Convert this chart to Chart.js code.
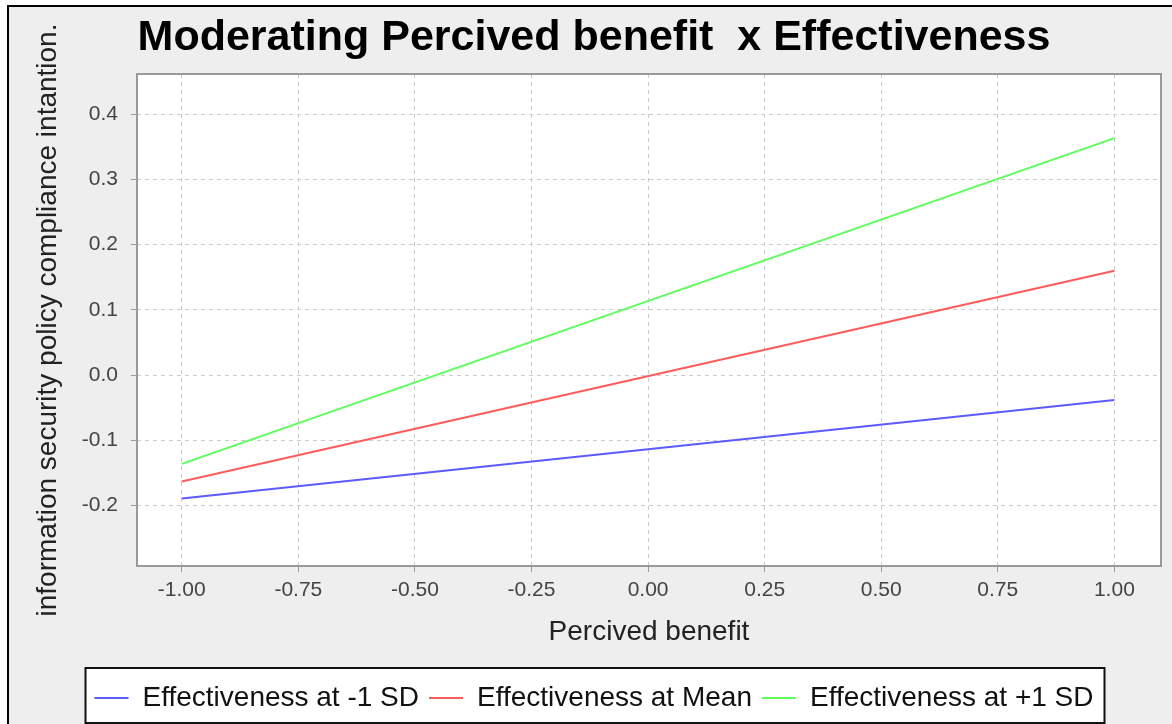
<!DOCTYPE html>
<html>
<head>
<meta charset="utf-8">
<script src="https://cdn.jsdelivr.net/npm/chart.js@4.4.1/dist/chart.umd.min.js"></script>
<style>
  html, body { margin: 0; padding: 0; background: #fff; overflow: hidden; }
  #wrap { position: absolute; left: 0; top: 0; width: 1188px; height: 724px; }
</style>
</head>
<body>
<div id="wrap"><canvas id="chart" width="1188" height="724"></canvas></div>
<script>
// values
const xValues = [-1, 1];
const lowSD = [-0.189, -0.038];
const meanSD = [-0.163, 0.160];
const highSD = [-0.136, 0.363];
const seriesNames = ["Effectiveness at -1 SD", "Effectiveness at Mean", "Effectiveness at +1 SD"];
const xTicks = [-1, -0.75, -0.5, -0.25, 0, 0.25, 0.5, 0.75, 1];
const yTicks = [-0.2, -0.1, 0, 0.1, 0.2, 0.3, 0.4];

const FONT = "'Liberation Sans', Arial, sans-serif";

function toPoints(ys) {
  return xValues.map((x, i) => ({ x: x, y: ys[i] }));
}

// grey frame, white plot and boxed legend like the java chart
const framePlugin = {
  id: "frame",
  beforeDraw(chart) {
    const { ctx, chartArea: a } = chart;
    ctx.save();
    ctx.fillStyle = "#ffffff";
    ctx.fillRect(0, 0, chart.width, chart.height);
    ctx.fillStyle = "#eeeeee";
    ctx.fillRect(7, 5, chart.width, chart.height);
    ctx.fillStyle = "#ffffff";
    ctx.fillRect(a.left, a.top, a.right - a.left, a.bottom - a.top);
    const lg = legendBox(chart);
    if (lg) ctx.fillRect(lg.l, lg.t, lg.r - lg.l, lg.b - lg.t);
    ctx.restore();
  },
  afterDraw(chart) {
    const { ctx, chartArea: a } = chart;
    ctx.save();
    ctx.strokeStyle = "#999999";
    ctx.lineWidth = 2;
    ctx.strokeRect(a.left, a.top, a.right - a.left, a.bottom - a.top);
    ctx.strokeStyle = "#000000";
    ctx.lineWidth = 2;
    ctx.beginPath();
    ctx.moveTo(8, chart.height);
    ctx.lineTo(8, 6);
    ctx.lineTo(chart.width, 6);
    ctx.stroke();
    const lg = legendBox(chart);
    if (lg) {
      ctx.strokeStyle = "#111111";
      ctx.strokeRect(lg.l, lg.t, lg.r - lg.l, lg.b - lg.t);
    }
    ctx.restore();
  }
};

function legendBox(chart) {
  const lg = chart.legend;
  if (!lg || !lg.legendHitBoxes || !lg.legendHitBoxes.length) return null;
  const hb = lg.legendHitBoxes;
  const l = Math.min(...hb.map(h => h.left)) - 9;
  const r = Math.max(...hb.map(h => h.left + h.width)) + 11;
  return { l: l, r: r, t: lg.top - 6, b: lg.bottom + 1 };
}

new Chart(document.getElementById("chart"), {
  type: "line",
  data: {
    datasets: [
      { label: seriesNames[0], data: toPoints(lowSD), borderColor: "#5b5bff", backgroundColor: "#5b5bff" },
      { label: seriesNames[1], data: toPoints(meanSD), borderColor: "#ff5b5b", backgroundColor: "#ff5b5b" },
      { label: seriesNames[2], data: toPoints(highSD), borderColor: "#5bff5b", backgroundColor: "#5bff5b" }
    ]
  },
  options: {
    responsive: false,
    animation: false,
    events: [],
    elements: {
      line: { borderWidth: 2, tension: 0 },
      point: { radius: 0, borderWidth: 2 }
    },
    layout: { padding: { left: 27, right: 27, top: 9, bottom: 2 } },
    plugins: {
      title: {
        display: true,
        text: "Moderating Percived benefit  x Effectiveness",
        color: "#000000",
        font: { family: FONT, size: 43, weight: "bold", lineHeight: 1 },
        padding: { top: 8, bottom: 14 }
      },
      legend: {
        position: "bottom",
        labels: {
          color: "#111111",
          font: { family: FONT, size: 28, lineHeight: 1.2 },
          usePointStyle: true,
          pointStyle: "line",
          pointStyleWidth: 34,
          boxHeight: 2,
          padding: 10
        }
      },
      tooltip: { enabled: false }
    },
    scales: {
      x: {
        type: "linear",
        min: -1.096,
        max: 1.1,
        afterBuildTicks: s => { s.ticks = xTicks.map(v => ({ value: v })); },
        afterFit: s => { s.height = 108; },
        border: { display: false, dash: [4, 4] },
        grid: { color: "#cccccc", lineWidth: 1, tickColor: "#999999", tickLength: 6, tickBorderDash: [] },
        ticks: {
          color: "#444444",
          padding: 6,
          maxRotation: 0,
          font: { family: FONT, size: 21, lineHeight: 1.2 },
          callback: v => v.toFixed(2)
        },
        title: {
          display: true,
          text: "Percived benefit",
          color: "#222222",
          font: { family: FONT, size: 28, lineHeight: 1 },
          padding: { top: 0, bottom: 28 }
        }
      },
      y: {
        type: "linear",
        min: -0.2924,
        max: 0.4613,
        afterBuildTicks: s => { s.ticks = yTicks.map(v => ({ value: v })); },
        afterFit: s => { s.width = 110; },
        border: { display: false, dash: [4, 4] },
        grid: { color: "#cccccc", lineWidth: 1, tickColor: "#999999", tickLength: 6, tickBorderDash: [] },
        ticks: {
          color: "#444444",
          padding: 13,
          font: { family: FONT, size: 21, lineHeight: 1.2 },
          callback: v => v.toFixed(1)
        },
        title: {
          display: true,
          text: "information security policy compliance intantion.",
          color: "#222222",
          font: { family: FONT, size: 28, lineHeight: 1 },
          padding: { top: 7, bottom: 0 }
        }
      }
    }
  },
  plugins: [framePlugin]
});
</script>
</body>
</html>
